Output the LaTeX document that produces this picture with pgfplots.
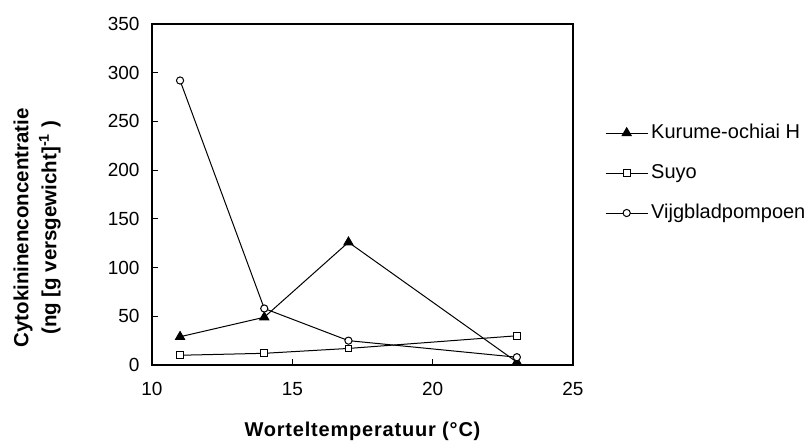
\documentclass[border=0pt]{standalone}
\usepackage{pgfplots}
\pgfplotsset{compat=1.18}
\usepackage{fontspec}
\setmainfont{Liberation Sans}
\usetikzlibrary{calc}
\newcommand{\tickf}{\fontsize{19bp}{23bp}\selectfont}
\newcommand{\legf}{\fontsize{20bp}{24bp}\selectfont}

\begin{document}
\begin{tikzpicture}
\begin{axis}[
  scale only axis, width=421bp, height=341bp,
  xmin=10, xmax=25, ymin=0, ymax=350,
  xtick={10,15,20,25}, ytick={0,50,...,350},
  tick align=inside, major tick length=6bp,
  xtick pos=bottom, ytick pos=left,
  axis line style={line width=1.6bp},
  tick style={line width=1bp, black},
  /pgf/number format/assume math mode=true,
  /pgf/number format/1000 sep={},
  tick label style={font=\tickf},
  xticklabel style={yshift=-14bp},
  yticklabel style={xshift=-9bp},
  xlabel={\bfseries\addfontfeatures{LetterSpace=4}Worteltemperatuur (°C)},
  xlabel style={at={(axis description cs:0.5,-0.194)}, anchor=center, font=\fontsize{20bp}{24bp}\selectfont},
  ylabel={\bfseries Cytokininenconcentratie\\[0bp]\bfseries (ng [g versgewicht]\textsuperscript{-1} )},
  ylabel style={at={(axis description cs:-0.273,0.402)}, anchor=center, align=center,
    font=\fontsize{20.5bp}{28bp}\selectfont},
  legend style={at={(axis description cs:1.076,0.563)}, anchor=west, draw=none, fill=none,
    inner sep=0pt, row sep=16bp, font=\legf,
    nodes={inner sep=3bp, text height=14bp, text depth=4bp, font=\legf}},
  legend cell align=left,
  legend image code/.code={\draw[mark repeat=2,mark phase=2,#1] plot coordinates {(0bp,0bp) (21bp,0bp) (42bp,0bp)};},
  every axis plot/.append style={line width=1bp, black},
]
\addplot[mark=triangle*, mark size=5.2bp, mark options={fill=black, solid}] coordinates {
  (11,29) (14,49) (17,126) (23,3)
};
\addlegendentry{Kurume-ochiai H}
\addplot[mark=square*, mark size=3.4bp, mark options={fill=white, solid}] coordinates {
  (11,10) (14,12) (17,17) (23,30)
};
\addlegendentry{Suyo}
\addplot[mark=*, mark size=3.6bp, mark options={fill=white, solid}] coordinates {
  (11,292) (14,58) (17,25) (23,8)
};
\addlegendentry{Vijgbladpompoen}
\coordinate (bl) at (rel axis cs:0,0);
\coordinate (tr) at (rel axis cs:1,1);
\end{axis}
\pgfresetboundingbox
\path ($(bl)+(-152bp,-76bp)$) rectangle ($(tr)+(239bp,24bp)$);
\end{tikzpicture}
\end{document}
